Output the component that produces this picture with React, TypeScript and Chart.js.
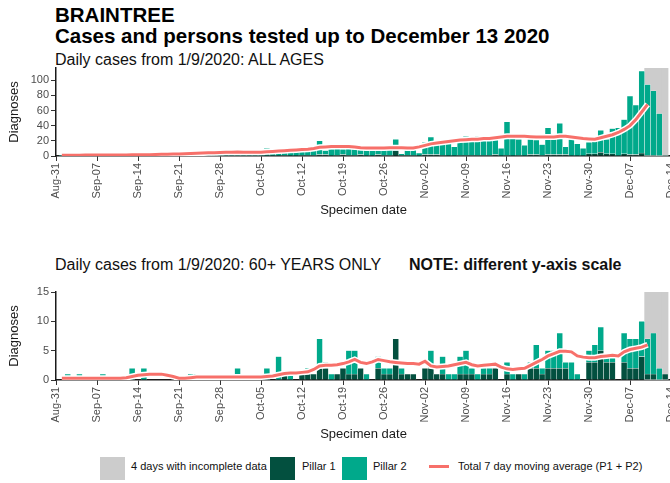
import React, { useEffect, useRef } from "react";
import { Chart, registerables } from "chart.js";
Chart.register(...registerables);

const FONT = "'Liberation Sans', Arial, Helvetica, sans-serif";

// x axis: day offsets from Aug-31 (0) ; tick every 7 days
const xTickLabels = [
  "Aug-31", "Sep-07", "Sep-14", "Sep-21", "Sep-28", "Oct-05", "Oct-12", "Oct-19",
  "Oct-26", "Nov-02", "Nov-09", "Nov-16", "Nov-23", "Nov-30", "Dec-07", "Dec-14",
];
const firstDay = 1; // 1 Sep 2020
const incompleteDays = [101, 102, 103, 104]; // Dec 10-13

// ALL AGES (Sep 1 .. Dec 13)
const allAgesPillar1 = [
  0, 0, 0, 0, 0, 0, 0,
  0, 0, 0, 0, 0, 0, 0,
  0, 0, 0, 0, 0, 0, 0,
  0, 0, 0, 0, 0, 0, 0,
  0, 0, 0, 0, 0, 0, 0,
  0, 0, 0, 1, 0, 0, 1,
  1, 1, 2, 2, 0, 1, 2,
  1, 1, 2, 0, 0, 2, 1,
  1, 7, 1, 1, 1, 0, 2,
  2, 2, 1, 0, 0, 1, 1,
  1, 1, 1, 1, 2, 0, 1,
  0, 1, 0, 2, 2, 1, 2,
  2, 2, 2, 0, 0, 0, 3,
  3, 5, 3, 3, 0, 3, 2,
  2, 4, 1, 1, 0, 1,
];
const allAgesPillar2 = [
  1, 0, 2, 1, 1, 0, 1,
  1, 2, 1, 0, 1, 2, 1,
  2, 1, 2, 3, 2, 1, 2,
  3, 4, 3, 5, 4, 3, 5,
  5, 4, 6, 5, 4, 5, 3,
  10, 5, 6, 6, 8, 6, 6,
  7, 12, 18, 5, 9, 9, 7,
  9, 8, 6, 9, 9, 8, 8,
  8, 15, 2, 8, 8, 4, 16,
  23, 14, 19, 17, 12, 19, 25,
  21, 25, 21, 21, 24, 10, 44,
  27, 21, 14, 20, 19, 14, 35,
  20, 41, 10, 22, 16, 10, 15,
  19, 29, 19, 33, 37, 45, 77,
  65, 108, 93, 85, 56, 0,
];
const allAgesMovingAvg = [
  1.0, 1.0, 1.1, 1.1, 1.2, 1.2, 1.2,
  1.2, 1.3, 1.3, 1.4, 1.4, 1.5, 1.5,
  1.6, 1.8, 2.0, 2.2, 2.4, 2.6, 2.8,
  3.0, 3.3, 3.6, 3.9, 4.2, 4.4, 4.6,
  4.8, 5.0, 5.2, 5.0, 4.8, 4.8, 5.0,
  5.5, 6.0, 6.5, 7.0, 7.5, 8.0, 8.5,
  9.0, 10.0, 11.5, 12.0, 12.5, 12.5, 12.5,
  12.5, 12.0, 11.0, 10.5, 10.5, 10.5, 10.5,
  11.0, 11.0, 11.0, 10.5, 10.5, 12.0, 14.0,
  16.0, 17.0, 18.0, 19.0, 20.0, 21.0, 21.5,
  22.0, 22.0, 23.0, 23.0, 24.0, 25.0, 26.0,
  26.0, 26.0, 26.0, 25.5, 25.0, 25.0, 25.0,
  25.0, 26.0, 26.0, 25.0, 24.0, 23.0, 22.5,
  22.0, 24.0, 26.0, 28.0, 31.0, 35.0, 40.0,
  48.0, 58.0, 68.0,
];

// 60+ YEARS ONLY
const over60Pillar1 = [
  0, 0, 0, 0, 0, 0, 0,
  0, 0, 0, 0, 0, 0, 0,
  0, 0, 0, 0, 0, 0, 0,
  0, 0, 0, 0, 0, 0, 0,
  0, 0, 0, 0, 0, 0, 0,
  0, 0, 0, 1, 0, 0, 1,
  1, 1, 2, 2, 0, 1, 2,
  1, 1, 2, 0, 0, 2, 1,
  1, 7, 1, 1, 1, 0, 2,
  2, 1, 1, 0, 0, 1, 1,
  1, 0, 1, 1, 2, 0, 1,
  0, 1, 0, 2, 2, 1, 2,
  2, 2, 2, 0, 0, 0, 3,
  3, 5, 3, 3, 0, 3, 2,
  2, 4, 1, 1, 0, 1,
];
const over60Pillar2 = [
  0, 1, 0, 1, 0, 0, 0,
  1, 0, 0, 0, 0, 2, 0,
  2, 0, 0, 0, 0, 0, 0,
  0, 1, 1, 0, 0, 0, 0,
  0, 0, 2, 0, 0, 0, 0,
  2, 0, 4, 0, 1, 0, 0,
  1, 0, 5, 1, 1, 0, 0,
  4, 4, 0, 1, 0, 2, 1,
  1, 0, 1, 0, 0, 0, 0,
  3, 0, 3, 1, 1, 3, 4,
  1, 1, 1, 1, 0, 0, 2,
  1, 0, 1, 1, 4, 1, 3,
  3, 6, 1, 3, 1, 0, 2,
  3, 4, 1, 1, 0, 5, 5,
  5, 6, 6, 7, 2, 0,
];
const over60MovingAvg = [
  0.3, 0.3, 0.3, 0.3, 0.3, 0.3, 0.3,
  0.3, 0.3, 0.3, 0.3, 0.4, 0.6, 0.8,
  0.9, 1.0, 1.0, 1.0, 0.8, 0.6, 0.3,
  0.3, 0.4, 0.5, 0.5, 0.5, 0.5, 0.5,
  0.5, 0.5, 0.5, 0.5, 0.5, 0.5, 0.5,
  0.6, 0.7, 0.9, 1.1, 1.2, 1.2, 1.3,
  1.4, 1.8, 2.4, 2.5, 2.5, 2.6, 2.8,
  3.1, 3.5, 3.0, 2.8, 3.1, 3.5, 3.3,
  3.1, 3.0, 2.9, 2.8, 2.8, 2.7, 3.2,
  2.4, 2.2, 2.3, 2.4, 2.6, 2.8, 3.0,
  2.6, 2.4, 2.5, 2.6, 2.7, 2.2, 1.9,
  1.8, 1.9, 2.0, 2.5, 3.0, 3.5, 4.1,
  4.5, 4.9, 4.9, 4.8, 4.1, 3.9, 3.8,
  3.8, 4.0, 4.1, 4.2, 4.1, 4.8, 5.2,
  5.4, 5.6, 6.0,
];

const P1_COLOR = "#03503f";
const P2_COLOR = "#00a98b";
const GREY = "#cccccc";
const MA_COLOR = "#f7706a";
const TICK_COLOR = "#4d4d4d";

type PanelProps = {
  p1: number[];
  p2: number[];
  ma: number[];
  yMax: number;
  yStep: number;
  top: number;
};

function Panel({ p1, p2, ma, yMax, yStep, top }: PanelProps) {
  const ref = useRef<HTMLCanvasElement | null>(null);
  useEffect(() => {
    if (!ref.current) return;
    const toXY = (arr: number[]) => arr.map((v, i) => ({ x: firstDay + i, y: v }));
    const chart = new Chart(ref.current, {
      type: "bar",
      data: {
        datasets: [
          {
            type: "line",
            label: "Total 7 day moving average (P1 + P2)",
            data: toXY(ma),
            borderColor: MA_COLOR,
            borderWidth: 3,
            pointRadius: 0,
            order: 0,
          } as any,
          {
            type: "line",
            label: "halo",
            data: toXY(ma),
            borderColor: "#ffffff",
            borderWidth: 6,
            pointRadius: 0,
            order: 1,
          } as any,
          {
            label: "Pillar 1",
            data: toXY(p1),
            backgroundColor: P1_COLOR,
            borderColor: "rgba(255,255,255,0.7)",
            borderWidth: 0.5,
            stack: "cases",
            order: 2,
            barPercentage: 1,
            categoryPercentage: 1,
          },
          {
            label: "Pillar 2",
            data: toXY(p2),
            backgroundColor: P2_COLOR,
            borderColor: "rgba(255,255,255,0.7)",
            borderWidth: 0.5,
            stack: "cases",
            order: 2,
            barPercentage: 1,
            categoryPercentage: 1,
          },
          {
            label: "4 days with incomplete data",
            data: incompleteDays.map((d) => ({ x: d, y: yMax })),
            backgroundColor: GREY,
            borderWidth: 0,
            stack: "bg",
            grouped: false,
            order: 3,
            barPercentage: 1,
            categoryPercentage: 1,
          } as any,
        ],
      },
      options: {
        responsive: false,
        animation: false,
        layout: { padding: { top: 6, left: 0, right: 9, bottom: 0 } },
        plugins: { legend: { display: false }, tooltip: { enabled: false } },
        scales: {
          x: {
            type: "linear",
            min: 0,
            max: 105,
            offset: false,
            grid: {
              offset: false,
              drawOnChartArea: false,
              drawTicks: true,
              tickLength: 5,
              color: "#333",
            },
            border: { display: true, color: "#1a1a1a", width: 1.5 },
            ticks: {
              stepSize: 7,
              autoSkip: false,
              maxRotation: 90,
              minRotation: 90,
              padding: 2,
              color: TICK_COLOR,
              font: { family: FONT, size: 11 },
              callback: (v: any) => xTickLabels[Math.round(Number(v) / 7)] ?? "",
            },
            title: {
              display: true,
              text: "Specimen date",
              color: "#1a1a1a",
              font: { family: FONT, size: 13 },
              padding: { top: 4, bottom: 4 },
            },
            afterFit: (s: any) => {
              s.height = 66;
              s.paddingLeft = 0;
              s.paddingRight = 0;
            },
          } as any,
          y: {
            min: 0,
            max: yMax,
            grid: {
              drawOnChartArea: false,
              drawTicks: true,
              tickLength: 5,
              color: "#333",
            },
            border: { display: true, color: "#1a1a1a", width: 1.5 },
            ticks: {
              stepSize: yStep,
              includeBounds: false,
              padding: 2,
              color: TICK_COLOR,
              font: { family: FONT, size: 11 },
            },
            title: {
              display: true,
              text: "Diagnoses",
              color: "#1a1a1a",
              font: { family: FONT, size: 13 },
              padding: { top: 7, bottom: 0 },
            },
            afterFit: (s: any) => {
              s.width = 56;
              s.paddingTop = 0;
              s.paddingBottom = 0;
            },
          } as any,
        },
      },
    });
    return () => chart.destroy();
  }, [p1, p2, ma, yMax, yStep]);
  return (
    <canvas
      ref={ref}
      width={680}
      height={160}
      style={{ position: "absolute", left: 0, top, width: 680, height: 160 }}
    />
  );
}

const txt = (extra: React.CSSProperties): React.CSSProperties => ({
  position: "absolute",
  fontFamily: FONT,
  whiteSpace: "nowrap",
  color: "#111",
  ...extra,
});

export default function App() {
  return (
    <div
      style={{
        position: "fixed",
        left: 0,
        top: 0,
        width: 670,
        height: 483,
        overflow: "hidden",
        background: "#fff",
      }}
    >
      <div style={txt({ left: 55, top: 5, fontSize: 20.5, fontWeight: "bold", lineHeight: "20.5px", color: "#000" })}>
        BRAINTREE
      </div>
      <div style={txt({ left: 55, top: 25.5, fontSize: 20.5, fontWeight: "bold", lineHeight: "20.5px", color: "#000" })}>
        Cases and persons tested up to December 13 2020
      </div>
      <div style={txt({ left: 55, top: 52, fontSize: 16, lineHeight: "16px" })}>
        Daily cases from 1/9/2020: ALL AGES
      </div>
      <Panel p1={allAgesPillar1} p2={allAgesPillar2} ma={allAgesMovingAvg} yMax={116} yStep={20} top={62} />

      <div style={txt({ left: 55, top: 257, fontSize: 16, lineHeight: "16px" })}>
        Daily cases from 1/9/2020: 60+ YEARS ONLY
      </div>
      <div style={txt({ left: 409, top: 257, fontSize: 16, lineHeight: "16px", fontWeight: "bold" })}>
        NOTE: different y-axis scale
      </div>
      <Panel p1={over60Pillar1} p2={over60Pillar2} ma={over60MovingAvg} yMax={15} yStep={5} top={286} />

      {/* legend */}
      <div style={{ position: "absolute", left: 100, top: 457, width: 25, height: 23, background: GREY }} />
      <div style={txt({ left: 131, top: 460.5, fontSize: 11, lineHeight: "11px" })}>4 days with incomplete data</div>
      <div style={{ position: "absolute", left: 270, top: 457, width: 25, height: 23, background: P1_COLOR }} />
      <div style={txt({ left: 302, top: 460.5, fontSize: 11, lineHeight: "11px" })}>Pillar 1</div>
      <div style={{ position: "absolute", left: 342, top: 457, width: 25, height: 23, background: P2_COLOR }} />
      <div style={txt({ left: 373, top: 460.5, fontSize: 11, lineHeight: "11px" })}>Pillar 2</div>
      <div style={{ position: "absolute", left: 429, top: 465, width: 20, height: 3, background: MA_COLOR }} />
      <div style={txt({ left: 458, top: 460.5, fontSize: 11, lineHeight: "11px" })}>Total 7 day moving average (P1 + P2)</div>
    </div>
  );
}
